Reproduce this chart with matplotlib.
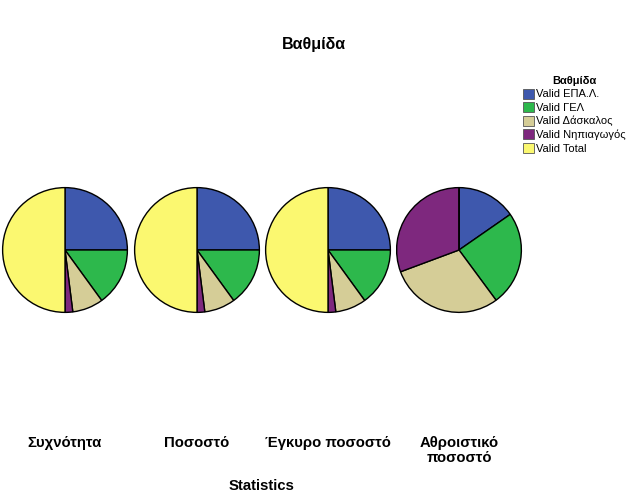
import matplotlib
matplotlib.use('Agg')
import matplotlib.pyplot as plt
from matplotlib.patches import Patch

plt.rcParams['font.family'] = ['Liberation Sans', 'DejaVu Sans']

categories = ['Valid ΕΠΑ.Λ.', 'Valid ΓΕΛ', 'Valid Δάσκαλος', 'Valid Νηπιαγωγός', 'Valid Total']
colors = ['#3e58ad', '#2db84c', '#d5cd97', '#7e287e', '#fbf870']
stats = ['Συχνότητα', 'Ποσοστό', 'Έγκυρο ποσοστό', 'Αθροιστικό\nποσοστό']
# values per statistic (ΕΠΑ.Λ., ΓΕΛ, Δάσκαλος, Νηπιαγωγός, Total)
freq = [25, 15, 8, 2, 50]
pct = [50.0, 30.0, 16.0, 4.0, 100.0]
valid_pct = [50.0, 30.0, 16.0, 4.0, 100.0]
cum_pct = [50.0, 80.0, 96.0, 100.0, 0]
series = [freq, pct, valid_pct, cum_pct]

W, H = 629, 504
fig = plt.figure(figsize=(W / 100, H / 100), dpi=100)

centers = [65, 197, 328, 459]
cy = 250
r = 63
for i, vals in enumerate(series):
    ax = fig.add_axes([(centers[i] - r) / W, (H - cy - r) / H, 2 * r / W, 2 * r / H])
    ax.pie(vals, colors=colors, startangle=90, counterclock=False, radius=1,
           wedgeprops=dict(edgecolor='black', linewidth=1))
    ax.set_xlim(-1.01, 1.01)
    ax.set_ylim(-1.01, 1.01)
    ax.set_aspect('equal')
    ax.axis('off')
    fig.text(centers[i] / W, 1 - 436 / H, stats[i], ha='center', va='top',
             fontsize=10.7, fontweight='bold', linespacing=1.05)

fig.text(314 / W, 1 - 45 / H, 'Βαθμίδα', ha='center', va='center',
         fontsize=11.5, fontweight='bold')
fig.text(262 / W, 1 - 486 / H, 'Statistics', ha='center', va='center',
         fontsize=10.7, fontweight='bold')

handles = [Patch(facecolor=c, edgecolor='#555555', linewidth=0.6) for c in colors]
leg = fig.legend(handles, categories, title='Βαθμίδα', loc='upper left',
                 bbox_to_anchor=(515 / W, 1 - 68 / H), frameon=False,
                 fontsize=8, title_fontproperties={'weight': 'bold', 'size': 8},
                 handlelength=1.0, handleheight=1.0, handletextpad=0.2,
                 labelspacing=0.25, borderpad=0.2)

fig.savefig('out.png', dpi=100)
